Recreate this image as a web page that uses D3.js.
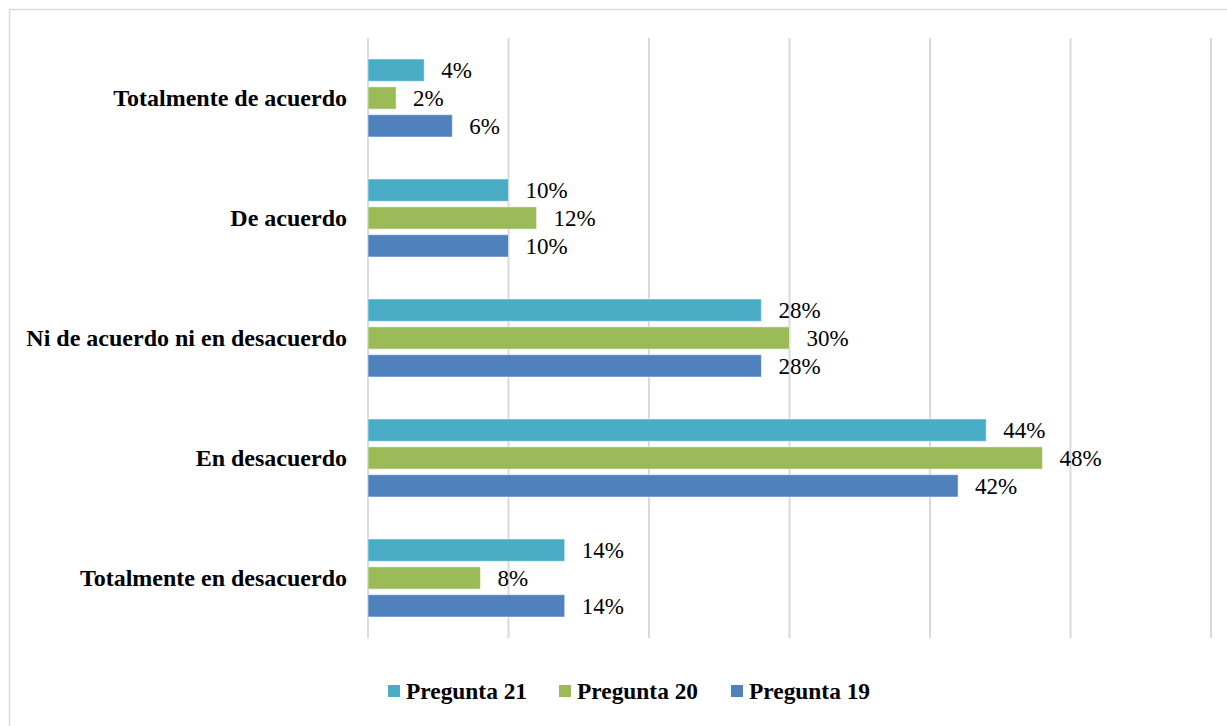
<!DOCTYPE html>
<html><head><meta charset="utf-8">
<script src="https://cdn.jsdelivr.net/npm/d3@7"></script>
<style>body{margin:0;background:#fff;} svg{display:block;}</style>
</head><body>
<svg id="c" width="1227" height="726"></svg>
<script>
const categories = ["Totalmente de acuerdo","De acuerdo","Ni de acuerdo ni en desacuerdo","En desacuerdo","Totalmente en desacuerdo"];
const seriesNames = ["Pregunta 21","Pregunta 20","Pregunta 19"];
const pregunta21 = [4,10,28,44,14];
const pregunta20 = [2,12,30,48,8];
const pregunta19 = [6,10,28,42,14];
const seriesValues = [pregunta21, pregunta20, pregunta19];
const colors = ["#4BACC6","#9BBB59","#4F81BD"];
const xTicks = [0,10,20,30,40,50,60];

const svg = d3.select("#c");
const font = "Liberation Serif, Times New Roman, serif";
svg.append("rect").attr("x",9.5).attr("y",9.5).attr("width",1230).attr("height",730)
  .attr("fill","#fff").attr("stroke","#d9d9d9").attr("stroke-width",1.5);

const x = d3.scaleLinear().domain([0,60]).range([368,1211]);
const y = d3.scaleBand().domain(categories).range([38,638]).paddingInner(0.35).paddingOuter(0.175);
const yInner = d3.scaleBand().domain(seriesNames).range([0,y.bandwidth()]).paddingInner(0.2);

svg.append("g").selectAll("line").data(xTicks).join("line")
  .attr("x1",d=>x(d)).attr("x2",d=>x(d)).attr("y1",38).attr("y2",638)
  .attr("stroke","#d9d9d9").attr("stroke-width",2);

seriesNames.forEach((s,si)=>{
  const g = svg.append("g");
  g.selectAll("rect").data(categories).join("rect")
    .attr("x",x(0)).attr("y",c=>y(c)+yInner(s))
    .attr("width",(c,i)=>x(seriesValues[si][i])-x(0)).attr("height",yInner.bandwidth())
    .attr("fill",colors[si]).attr("stroke","#ffffff").attr("stroke-opacity",0.5).attr("stroke-width",1);
  g.selectAll("text").data(categories).join("text")
    .attr("x",(c,i)=>x(seriesValues[si][i])+17).attr("y",c=>y(c)+yInner(s)+yInner.bandwidth()/2)
    .attr("dy","0.35em").attr("font-family",font).attr("font-size",23).attr("fill","#000")
    .text((c,i)=>seriesValues[si][i]+"%");
});

svg.append("g").selectAll("text").data(categories).join("text")
  .attr("x",347).attr("y",c=>y(c)+y.bandwidth()/2).attr("dy","0.35em")
  .attr("text-anchor","end").attr("font-family",font).attr("font-size",24).attr("font-weight","bold")
  .text(d=>d);

const legX = [388,559,731];
const lg = svg.append("g");
seriesNames.forEach((s,i)=>{
  lg.append("rect").attr("x",legX[i]).attr("y",685).attr("width",12).attr("height",12).attr("fill",colors[i]);
  lg.append("text").attr("x",legX[i]+18).attr("y",691).attr("dy","0.35em")
    .attr("font-family",font).attr("font-size",23.4).attr("font-weight","bold").text(s);
});
</script>
</body></html>
